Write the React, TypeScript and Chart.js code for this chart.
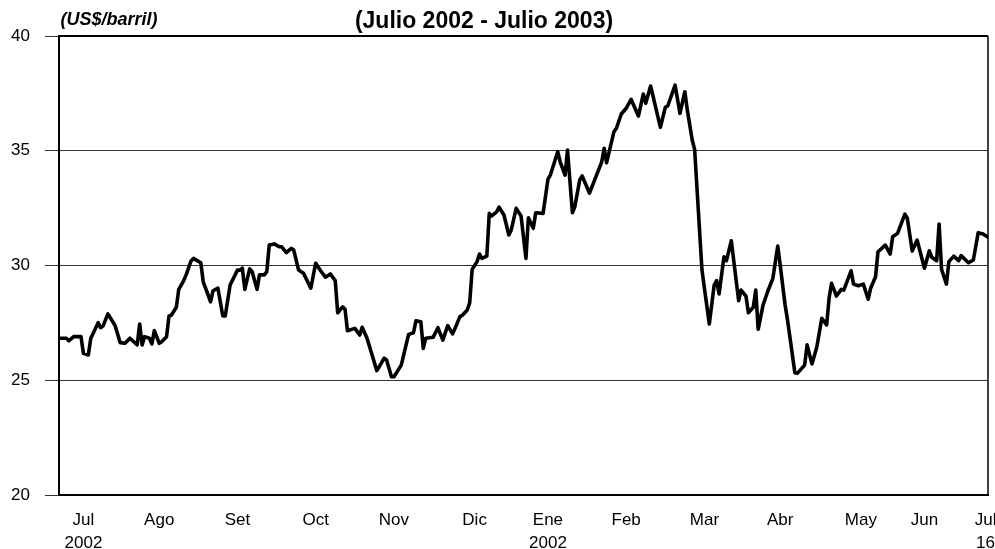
import React, { useEffect, useRef } from "react";
import { Chart, registerables } from "chart.js";

Chart.register(...registerables);

// Days since 1 Jul 2002 (x) and price in US$/barril (y)
const days = [
  0, 3, 4, 6, 9, 10, 12, 13, 14, 16,
  17, 18, 20, 22, 23, 25, 27, 29, 32, 33,
  34, 35, 37, 38, 39, 41, 42, 44, 45, 46,
  48, 49, 51, 52, 54, 55, 58, 59, 61, 62,
  63, 65, 67, 68, 70, 73, 74, 75, 76, 78,
  79, 81, 82, 84, 85, 86, 88, 90, 91, 93,
  95, 96, 98, 100, 103, 105, 107, 109, 111, 113,
  114, 116, 117, 118, 121, 123, 124, 126, 130, 131,
  133, 134, 136, 137, 140, 143, 145, 146, 148, 149,
  150, 153, 155, 157, 159, 161, 162, 164, 165, 167,
  168, 169, 171, 172, 173, 175, 176, 177, 179, 180,
  182, 184, 185, 187, 189, 191, 192, 194, 195, 198,
  200, 201, 204, 205, 207, 208, 210, 211, 213, 214,
  217, 221, 222, 223, 224, 227, 228, 230, 232, 234,
  237, 239, 240, 242, 246, 248, 249, 252, 254, 256,
  257, 259, 260, 263, 264, 266, 268, 269, 270, 272,
  273, 275, 278, 279, 281, 282, 284, 285, 286, 288,
  290, 292, 294, 295, 297, 298, 301, 302, 305, 306,
  308, 310, 312, 314, 315, 316, 318, 320, 321, 324,
  325, 327, 329, 331, 332, 334, 335, 338, 340, 341,
  343, 346, 347, 349, 351, 354, 356, 357, 359, 360,
  361, 363, 364, 366, 368, 369, 372, 374, 376, 378,
  380,
];

const prices = [
  26.83, 26.83, 26.72, 26.9, 26.9, 26.17, 26.1, 26.83, 27.05, 27.51,
  27.29, 27.36, 27.89, 27.55, 27.36, 26.64, 26.61, 26.83, 26.54, 27.45,
  26.54, 26.9, 26.83, 26.58, 27.16, 26.61, 26.68, 26.9, 27.8, 27.84,
  28.18, 28.96, 29.34, 29.59, 30.2, 30.31, 30.12, 29.29, 28.71, 28.42,
  28.9, 29.01, 27.8, 27.8, 29.15, 29.8, 29.8, 29.88, 28.96, 29.85,
  29.73, 28.96, 29.59, 29.59, 29.73, 30.89, 30.94, 30.82, 30.82, 30.56,
  30.75, 30.68, 29.8, 29.66, 29.01, 30.1, 29.77, 29.49, 29.63, 29.34,
  27.94, 28.2, 28.09, 27.16, 27.26, 26.97, 27.31, 26.83, 25.42, 25.59,
  25.96, 25.88, 25.15, 25.15, 25.66, 27.0, 27.07, 27.59, 27.55, 26.39,
  26.83, 26.87, 27.29, 26.75, 27.38, 27.02, 27.26, 27.77, 27.83, 28.06,
  28.38, 29.83, 30.17, 30.5, 30.31, 30.41, 32.27, 32.16, 32.34, 32.54,
  32.2, 31.33, 31.55, 32.49, 32.16, 30.31, 32.08, 31.62, 32.3, 32.27,
  33.76, 33.94, 34.96, 34.52, 33.94, 35.03, 32.3, 32.56, 33.73, 33.9,
  33.15, 34.24, 34.52, 35.11, 34.48, 35.83, 35.98, 36.6, 36.85, 37.24,
  36.51, 37.47, 37.07, 37.82, 36.02, 36.89, 36.95, 37.86, 36.63, 37.57,
  36.78, 35.47, 35.06, 29.8, 29.01, 27.45, 29.15, 29.34, 28.76, 30.38,
  30.21, 31.08, 28.47, 28.93, 28.67, 27.94, 28.18, 28.93, 27.22, 28.28,
  28.9, 29.44, 30.85, 30.02, 28.28, 27.63, 25.33, 25.3, 25.66, 26.54,
  25.71, 26.46, 27.7, 27.41, 28.57, 29.22, 28.67, 28.96, 28.93, 29.77,
  29.19, 29.12, 29.19, 28.53, 29.01, 29.51, 30.6, 30.89, 30.5, 31.25,
  31.4, 32.24, 32.06, 30.63, 31.11, 29.88, 30.64, 30.36, 30.21, 31.81,
  29.83, 29.19, 30.17, 30.41, 30.21, 30.43, 30.12, 30.24, 31.43, 31.37,
  31.23,
];

// X-axis labels (month names, second row) and their positions in days
const monthLabels = ["Jul", "Ago", "Set", "Oct", "Nov", "Dic", "Ene", "Feb", "Mar", "Abr", "May", "Jun", "Jul"];
const yearLabels = ["2002", "", "", "", "", "", "2002", "", "", "", "", "", "16"];
const labelDays = [10, 41, 73, 105, 137, 170, 200, 232, 264, 295, 328, 354, 379];

const yTicks = [20, 25, 30, 35, 40];

const titleText = "(Julio 2002 - Julio 2003)";
const unitText = "(US$/barril)";

const FONT = '"Liberation Sans", Arial, Helvetica, sans-serif';

const decorPlugin = {
  id: "decor",
  afterDraw(chart: any) {
    const { ctx, chartArea } = chart;
    const xs = chart.scales.x;
    ctx.save();
    // frame top & right
    ctx.strokeStyle = "#000";
    ctx.lineWidth = 2;
    ctx.beginPath();
    ctx.moveTo(chartArea.left, chartArea.top);
    ctx.lineTo(chartArea.right, chartArea.top);
    ctx.stroke();
    ctx.lineWidth = 1.5;
    ctx.beginPath();
    ctx.moveTo(chartArea.right, chartArea.top);
    ctx.lineTo(chartArea.right, chartArea.bottom);
    ctx.stroke();

    // x labels
    ctx.fillStyle = "#000";
    ctx.font = `17px ${FONT}`;
    ctx.textAlign = "center";
    ctx.textBaseline = "middle";
    monthLabels.forEach((m, i) => {
      const x = xs.getPixelForValue(labelDays[i]);
      ctx.fillText(m, x, chartArea.bottom + 25);
      if (yearLabels[i]) ctx.fillText(yearLabels[i], x, chartArea.bottom + 48);
    });

    // title
    ctx.font = `bold 23px ${FONT}`;
    ctx.fillText(titleText, chartArea.left + 425, chartArea.top - 14);
    // unit
    ctx.font = `italic bold 18px ${FONT}`;
    ctx.fillText(unitText, chartArea.left + 50, chartArea.top - 16);
    ctx.restore();
  },
};

export default function App() {
  const ref = useRef<HTMLCanvasElement>(null);

  useEffect(() => {
    if (!ref.current) return;
    const chart = new Chart(ref.current, {
      type: "line",
      data: {
        datasets: [
          {
            data: days.map((d, i) => ({ x: d, y: prices[i] })),
            borderColor: "#000",
            borderWidth: 3.6,
            pointRadius: 0,
            tension: 0,
            borderJoinStyle: "round",
            borderCapStyle: "round",
            fill: false,
          },
        ],
      },
      options: {
        responsive: false,
        animation: false,
        events: [],
        layout: { padding: { left: 0, top: 36, right: 7, bottom: 54 } },
        plugins: {
          legend: { display: false },
          tooltip: { enabled: false },
          title: { display: false },
        },
        scales: {
          x: {
            type: "linear",
            min: 0,
            max: 380,
            ticks: { display: false },
            grid: { display: false, drawTicks: false },
            border: { display: true, color: "#000", width: 2 },
            afterFit: (s: any) => {
              s.height = 0;
            },
          },
          y: {
            type: "linear",
            min: 20,
            max: 40,
            afterBuildTicks: (s: any) => {
              s.ticks = yTicks.map((v) => ({ value: v }));
            },
            ticks: {
              color: "#000",
              font: { family: FONT, size: 17 },
              padding: 15,
            },
            grid: { color: "#333", lineWidth: 1, tickLength: 14, drawTicks: true },
            border: { display: true, color: "#000", width: 2 },
            afterFit: (s: any) => {
              s.width = 59;
            },
          },
        },
      },
      plugins: [decorPlugin],
    });
    return () => chart.destroy();
  }, []);

  return (
    <div style={{ position: "absolute", left: 0, top: 0, width: 995, height: 549, background: "#fff" }}>
      <canvas ref={ref} width={995} height={549} style={{ display: "block" }} />
    </div>
  );
}
